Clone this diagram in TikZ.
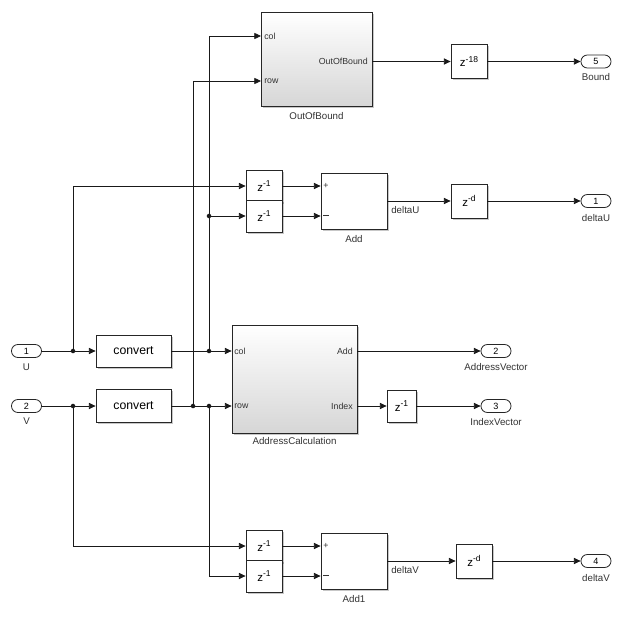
\documentclass[tikz,border=0pt]{standalone}
\usepackage{fontspec}
\setmainfont{Liberation Sans}
\usetikzlibrary{arrows.meta,shadows}
\newcommand\zpow[1]{z\raisebox{0.42em}{\fontsize{6.4}{7}\selectfont #1}}
\begin{document}
\begin{tikzpicture}[x=0.75pt,y=-0.75pt,
  sz/.style 2 args={minimum width=#1*0.75pt,minimum height=#2*0.75pt},
  blk/.style={draw=black!85, line width=0.6pt, fill=white, inner sep=0pt,
    drop shadow={shadow xshift=1.3pt, shadow yshift=-1.3pt, opacity=0.22, fill=black}},
  sub/.style={blk, top color=white, bottom color=black!16},
  zblk/.style={blk, font=\fontsize{8.6}{10}\selectfont},
  cblk/.style={blk, font=\fontsize{9.2}{11}\selectfont},
  port/.style={draw=black!85, line width=0.6pt, fill=white, rounded corners=4.8pt, sz={30}{13}, inner sep=0pt,
    font=\fontsize{6.8}{8}\selectfont},
  wire/.style={line width=0.6pt, black!90},
  arr/.style={wire,-{Triangle[length=5pt,width=4.6pt]}},
  dot/.style={circle, fill=black!90, inner sep=0pt, minimum size=3.4pt},
  lbl/.style={font=\fontsize{7.3}{8}\selectfont, inner sep=0pt, text=black!80},
  plbl/.style={font=\fontsize{6.6}{7}\selectfont, inner sep=0pt, text=black!80},
]
\useasboundingbox[fill=white] (0,0) rectangle (622,617);

% inports
\node[port] (in1) at (26.5,351) {1};
\node[port] (in2) at (26.5,406) {2};
\node[lbl] (lU) at (26.5,367) {U};
\node[lbl] (lV) at (26.5,421) {V};

% convert blocks
\node[cblk, sz={75}{32}] (conv1) at (133.5,351) {convert};
\node[cblk, sz={75}{33}] (conv2) at (133.5,406) {convert};

% OutOfBound subsystem
\node[sub, sz={111}{94}] (oob) at (316.5,59) {};
\node[lbl] (loob) at (316.5,116) {OutOfBound};
\node[plbl, anchor=west] (pcol1) at (264,36) {col};
\node[plbl, anchor=west] (prow1) at (264,81) {row};
\node[plbl, anchor=east] (pout1) at (368,61.5) {OutOfBound};
\node[zblk, sz={36}{34}] (z18) at (469,61.5) {\zpow{-18}};
\node[port] (out5) at (596,61.5) {5};
\node[lbl] (lBound) at (596,77) {Bound};

% Add (deltaU)
\node[zblk, sz={36}{32}] (zu1) at (264,186) {\zpow{-1}};
\node[zblk, sz={36}{32}] (zu2) at (264,216) {\zpow{-1}};
\node[blk, sz={66}{56}] (add) at (354,201) {};
\node[lbl] (ladd) at (354,239) {Add};
\node[plbl, anchor=west] (pp1) at (323,186) {+};
\node[plbl, anchor=west] (pm1) at (323,216) {\raisebox{0.2ex}{\rule{4pt}{0.4pt}}};
\node[lbl, anchor=west] (ldu) at (391,210) {deltaU};
\node[zblk, sz={36}{34}] (zdU) at (469,201) {\zpow{-d}};
\node[port] (out1) at (596,201) {1};
\node[lbl] (ldeltaU) at (596,218) {deltaU};

% AddressCalculation subsystem
\node[sub, sz={125}{108}] (addr) at (294.5,379) {};
\node[lbl] (laddr) at (294.5,441) {AddressCalculation};
\node[plbl, anchor=west] (pcol2) at (234,351.5) {col};
\node[plbl, anchor=west] (prow2) at (234,406.5) {row};
\node[plbl, anchor=east] (padd2) at (353,351) {Add};
\node[plbl, anchor=east] (pidx2) at (353,406) {Index};
\node[zblk, sz={29}{32}] (zidx) at (401.5,406) {\zpow{-1}};
\node[port] (out2) at (496,351) {2};
\node[lbl] (lAV) at (496,367.5) {AddressVector};
\node[port] (out3) at (496,406) {3};
\node[lbl] (lIV) at (496,422) {IndexVector};

% Add1 (deltaV)
\node[zblk, sz={36}{32}] (zv1) at (264,546) {\zpow{-1}};
\node[zblk, sz={36}{32}] (zv2) at (264,576) {\zpow{-1}};
\node[blk, sz={66}{56}] (add1) at (354,561) {};
\node[lbl] (ladd1) at (354,599) {Add1};
\node[plbl, anchor=west] (pp2) at (323,546) {+};
\node[plbl, anchor=west] (pm2) at (323,576) {\raisebox{0.2ex}{\rule{4pt}{0.4pt}}};
\node[lbl, anchor=west] (ldv) at (391,570) {deltaV};
\node[zblk, sz={36}{34}] (zdV) at (474,561) {\zpow{-d}};
\node[port] (out4) at (596,561) {4};
\node[lbl] (ldeltaV) at (596,578) {deltaV};

% junction coordinates
\coordinate (j1) at (73,351);
\coordinate (j2) at (73,406);
\coordinate (j3) at (209,351);
\coordinate (j4) at (193,406);
\coordinate (j5) at (209,406);
\coordinate (j6) at (209,216);
\coordinate (oobcol) at (261,36);
\coordinate (oobrow) at (261,81);

% wires from inputs
\draw[wire] (in1) -- (j1);
\draw[arr] (j1) -- (conv1);
\draw[arr] (j1) |- (zu1.west);
\draw[wire] (in2) -- (j2);
\draw[arr] (j2) -- (conv2);
\draw[arr] (j2) |- (zv1.west);

% convert outputs
\draw[arr] (conv1) -- (conv1.east -| addr.west);
\draw[arr] (j3) |- (oobcol);
\draw[arr] (j6) -- (zu2.west);
\draw[arr] (conv2) -- (conv2.east -| addr.west);
\draw[arr] (j4) |- (oobrow);
\draw[arr] (j5) |- (zv2.west);

% OutOfBound chain
\draw[arr] (oob.east |- z18) -- (z18);
\draw[arr] (z18) -- (out5);

% Add chain
\draw[arr] (zu1) -- (zu1 -| add.west);
\draw[arr] (zu2) -- (zu2 -| add.west);
\draw[arr] (add) -- (zdU);
\draw[arr] (zdU) -- (out1);

% AddressCalculation outputs
\draw[arr] (addr.east |- out2) -- (out2);
\draw[arr] (addr.east |- zidx) -- (zidx);
\draw[arr] (zidx) -- (out3);

% Add1 chain
\draw[arr] (zv1) -- (zv1 -| add1.west);
\draw[arr] (zv2) -- (zv2 -| add1.west);
\draw[arr] (add1) -- (zdV);
\draw[arr] (zdV) -- (out4);

% junction dots
\node[dot] (d1) at (j1) {};
\node[dot] (d2) at (j2) {};
\node[dot] (d3) at (j3) {};
\node[dot] (d4) at (j4) {};
\node[dot] (d5) at (j5) {};
\node[dot] (d6) at (j6) {};
\end{tikzpicture}
\end{document}
